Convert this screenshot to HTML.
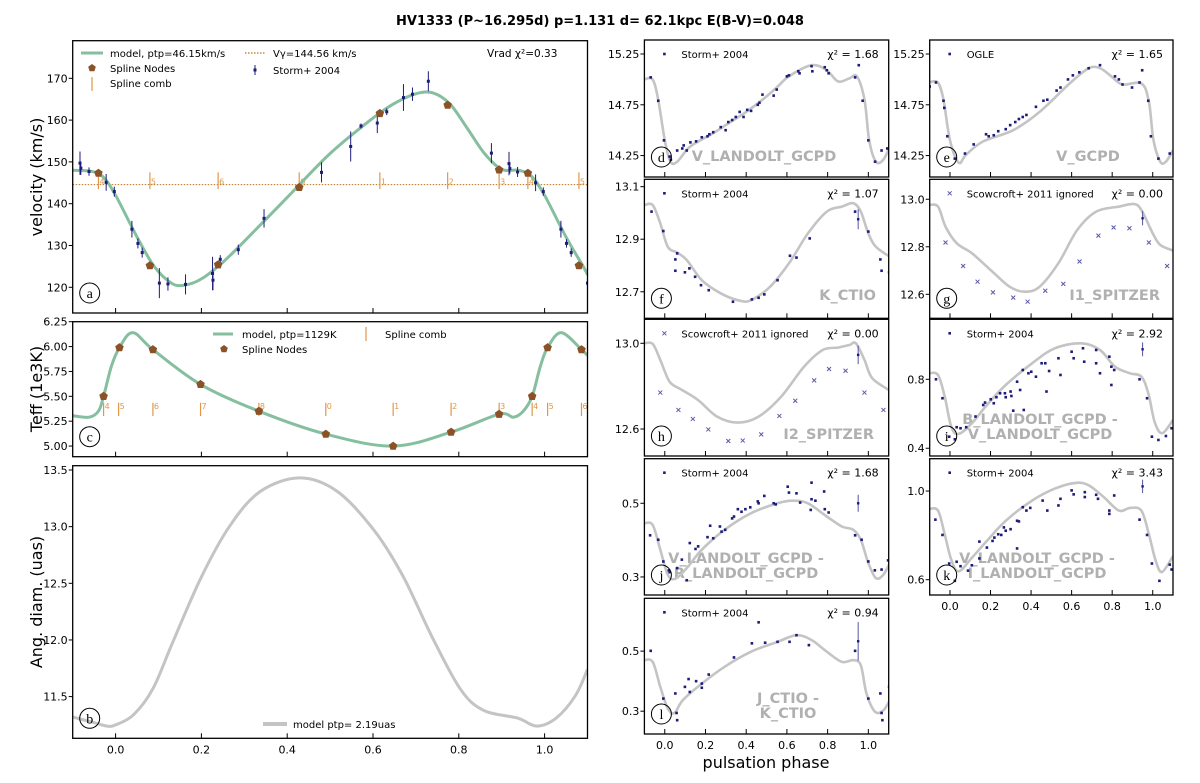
<!DOCTYPE html>
<html><head><meta charset="utf-8">
<style>
html,body{margin:0;padding:0;background:#fff;}
svg{display:block;font-family:"DejaVu Sans","Liberation Sans",sans-serif;}
</style></head>
<body>
<svg id="fig" width="1200" height="783" viewBox="0 0 1200 783" xmlns="http://www.w3.org/2000/svg">
<text x="600" y="25" text-anchor="middle" font-size="13" font-weight="bold">HV1333 (P~16.295d) p=1.131 d= 62.1kpc E(B-V)=0.048</text>
<text transform="translate(42,177) rotate(-90)" text-anchor="middle" font-size="16">velocity (km/s)</text>
<text transform="translate(42,389) rotate(-90)" text-anchor="middle" font-size="16">Teff (1e3K)</text>
<text transform="translate(42,602) rotate(-90)" text-anchor="middle" font-size="16">Ang. diam. (uas)</text>
<text x="766" y="768" text-anchor="middle" font-size="16">pulsation phase</text>
</svg>
<script>
// ---------- data ----------
const xTicks = [0, 0.2, 0.4, 0.6, 0.8, 1.0];
const xTickLabels = ["0.0", "0.2", "0.4", "0.6", "0.8", "1.0"];

const velModel = [[-0.1,148],[-0.06,147.8],[-0.03,146.5],[0,142],[0.05,132],[0.09,125],[0.13,121],[0.16,120.5],[0.2,122],[0.25,126],[0.3,131],[0.4,141.5],[0.5,152],[0.6,160.5],[0.65,164],[0.7,166.3],[0.74,166.5],[0.78,163.8],[0.82,158],[0.86,152],[0.9,148.2],[0.94,148],[0.97,146.5],[1.0,142],[1.05,132],[1.09,125],[1.1,123]];
const velNodes = [[-0.04,147.3],[0.08,125.2],[0.239,125.4],[0.428,143.9],[0.616,161.6],[0.774,163.6],[0.894,148.1],[0.961,147.3],[1.08,125.2]];
const velComb = [-0.04,0.08,0.239,0.428,0.616,0.774,0.894,0.961,1.08];
const velCombLabels = ["4","5","6","0","1","2","3","4","5"];
const velGamma = 144.56;
const velObs = [[-0.083,149.7,2.8],[-0.081,148.5,1.6],[-0.062,147.7,1],[-0.022,145.1,2],[-0.003,142.9,1.2],[0.038,133.9,2],[0.052,130.5,1.2],[0.062,128.3,1.2],[0.102,121,3.6],[0.122,120.8,1.6],[0.163,120.7,2.4],[0.226,123.3,4],[0.227,121.7,2.4],[0.244,126.7,1],[0.286,129,1.2],[0.346,136.5,2.2],[0.48,147.5,2.4],[0.548,153.7,3.6],[0.572,158.6,0.6],[0.61,159.3,2.4],[0.632,162,0.8],[0.671,165.4,3.2],[0.692,166.2,1.6],[0.729,169.3,2.4],[0.876,152.1,2.4],[0.917,149.6,2.8],[0.919,148.4,1.2],[0.937,147.6,1.2],[0.979,145,2],[0.997,142.9,1],[1.038,133.9,2],[1.051,130.5,1],[1.062,128.3,1],[1.1,121,1]];

const teffModel = [[-0.1,5.305],[-0.062,5.29],[-0.04,5.35],[-0.028,5.5],[-0.01,5.8],[0.009,5.99],[0.04,6.14],[0.087,5.97],[0.198,5.62],[0.334,5.35],[0.49,5.12],[0.647,5.0],[0.782,5.14],[0.894,5.32],[0.927,5.29],[0.95,5.35],[0.971,5.5],[0.99,5.8],[1.007,5.99],[1.039,6.14],[1.086,5.97],[1.1,5.91]];
const teffNodes = [[-0.028,5.5],[0.009,5.99],[0.087,5.97],[0.198,5.62],[0.334,5.35],[0.49,5.12],[0.647,5.0],[0.782,5.14],[0.894,5.32],[0.971,5.5],[1.007,5.99],[1.086,5.97]];
const teffComb = [-0.028,0.007,0.087,0.198,0.334,0.49,0.647,0.782,0.894,0.971,1.007,1.086];
const teffCombLabels = ["4","5","6","7","8","0","1","2","3","4","5","6"];

const diamModel = [[-0.1,11.32],[-0.05,11.27],[-0.02,11.24],[0.0,11.25],[0.042,11.34],[0.087,11.57],[0.131,11.96],[0.198,12.54],[0.265,13.0],[0.337,13.31],[0.43,13.43],[0.517,13.31],[0.602,12.97],[0.669,12.57],[0.736,12.04],[0.803,11.57],[0.857,11.38],[0.937,11.31],[0.982,11.24],[1.027,11.31],[1.072,11.51],[1.1,11.74]];

const dModel = [[-0.1,15.0],[-0.06,15.0],[-0.032,14.8],[0,14.4],[0.028,14.19],[0.061,14.19],[0.126,14.34],[0.238,14.47],[0.33,14.59],[0.4,14.68],[0.48,14.8],[0.55,14.92],[0.61,15.03],[0.721,15.14],[0.796,15.09],[0.851,14.98],[0.907,15.01],[0.944,15.03],[0.981,14.8],[1.004,14.4],[1.037,14.19],[1.074,14.21],[1.106,14.34]];
const dObs = [[-0.069,15.02],[-0.032,14.79],[-0.004,14.4],[0.024,14.24],[0.03,14.21],[0.061,14.3],[0.086,14.32],[0.093,14.35],[0.108,14.3],[0.126,14.38],[0.154,14.39],[0.182,14.43],[0.21,14.44],[0.219,14.46],[0.238,14.48],[0.275,14.53],[0.299,14.5],[0.312,14.58],[0.331,14.6],[0.349,14.63],[0.368,14.68],[0.387,14.63],[0.405,14.7],[0.424,14.69],[0.457,14.75],[0.465,14.77],[0.48,14.85],[0.535,14.84],[0.55,14.9],[0.6,15.03],[0.61,15.04],[0.656,15.08],[0.662,15.06],[0.721,15.13],[0.725,15.08],[0.786,15.12],[0.796,15.09],[0.805,15.06],[0.935,15.02],[0.953,15.14],[0.972,14.79],[1.0,14.4],[1.033,14.19],[1.065,14.3],[1.093,14.32]];

const eModel = [[-0.104,14.97],[-0.06,14.97],[-0.032,14.8],[0,14.4],[0.043,14.18],[0.08,14.26],[0.164,14.39],[0.312,14.5],[0.442,14.68],[0.59,14.96],[0.684,15.11],[0.74,15.11],[0.796,15.03],[0.851,14.95],[0.944,14.96],[0.981,14.78],[1.004,14.4],[1.037,14.19],[1.065,14.19],[1.1,14.3]];
const eObs = [[-0.1,14.93],[-0.069,14.97],[-0.032,14.79],[-0.028,14.72],[-0.013,14.44],[0.024,14.22],[0.074,14.27],[0.117,14.36],[0.178,14.46],[0.191,14.44],[0.216,14.45],[0.238,14.49],[0.275,14.51],[0.297,14.55],[0.322,14.58],[0.34,14.61],[0.359,14.63],[0.377,14.65],[0.424,14.73],[0.461,14.79],[0.48,14.8],[0.526,14.89],[0.545,14.92],[0.582,15.0],[0.606,15.04],[0.638,15.07],[0.684,15.11],[0.74,15.14],[0.814,15.03],[0.833,15.0],[0.851,14.95],[0.898,14.92],[0.935,14.97],[0.948,15.09],[0.978,14.79],[0.991,14.44],[1.028,14.22],[1.084,14.27]];

const fModel = [[-0.1,13.03],[-0.059,13.03],[-0.022,12.96],[0.015,12.871],[0.061,12.849],[0.108,12.821],[0.182,12.744],[0.275,12.694],[0.368,12.666],[0.424,12.668],[0.517,12.719],[0.61,12.808],[0.703,12.922],[0.796,13.005],[0.87,13.024],[0.926,13.037],[0.963,13.005],[1.0,12.922],[1.037,12.871],[1.106,12.833]];
const fObs = [[-0.065,13.005],[-0.007,12.931],[0.061,12.846],[0.052,12.823],[0.052,12.78],[0.099,12.774],[0.121,12.789],[0.149,12.757],[0.178,12.725],[0.216,12.706],[0.335,12.662],[0.428,12.671],[0.461,12.677],[0.489,12.69],[0.554,12.744],[0.615,12.837],[0.647,12.83],[0.712,12.903],[0.935,13.005],[1.0,12.929],[1.059,12.823],[1.065,12.78],[1.102,12.774]];
const fErr = [[0.95,12.976,0.038]];

const gModel = [[-0.104,12.976],[-0.059,12.969],[-0.022,12.885],[0.033,12.815],[0.108,12.773],[0.201,12.702],[0.294,12.632],[0.368,12.611],[0.442,12.632],[0.535,12.731],[0.628,12.871],[0.721,12.948],[0.833,12.969],[0.907,12.98],[0.944,12.955],[1.0,12.857],[1.037,12.808],[1.1,12.784]];
const gObs = [[-0.022,12.818],[0.065,12.719],[0.136,12.653],[0.212,12.608],[0.312,12.586],[0.383,12.569],[0.47,12.615],[0.559,12.644],[0.639,12.738],[0.732,12.847],[0.807,12.881],[0.885,12.878],[0.981,12.818],[1.071,12.719]];
const gErr = [[0.95,12.92,0.03]];

const hModel = [[-0.1,13.0],[-0.059,12.997],[-0.022,12.922],[0.024,12.821],[0.08,12.785],[0.164,12.735],[0.257,12.658],[0.359,12.63],[0.461,12.658],[0.572,12.751],[0.684,12.891],[0.777,12.969],[0.851,12.98],[0.907,12.992],[0.939,13.0],[0.981,12.922],[1.019,12.837],[1.106,12.779]];
const hObs = [[-0.022,12.77],[0.067,12.689],[0.138,12.647],[0.214,12.598],[0.312,12.544],[0.383,12.546],[0.474,12.575],[0.563,12.661],[0.641,12.732],[0.734,12.827],[0.807,12.88],[0.888,12.872],[0.981,12.77],[1.074,12.689]];
const hErr = [[0.95,12.946,0.043]];

const iModel = [[-0.104,0.835],[-0.059,0.825],[-0.026,0.7],[0.006,0.526],[0.043,0.483],[0.108,0.545],[0.182,0.651],[0.275,0.767],[0.405,0.893],[0.517,0.98],[0.647,1.009],[0.74,0.97],[0.814,0.873],[0.888,0.835],[0.944,0.815],[0.978,0.719],[1.009,0.555],[1.046,0.487],[1.1,0.564]];
const iObs = [[-0.069,0.8],[-0.037,0.69],[-0.004,0.467],[0.024,0.452],[0.033,0.522],[0.052,0.516],[0.08,0.522],[0.126,0.584],[0.164,0.651],[0.173,0.665],[0.201,0.684],[0.216,0.661],[0.229,0.696],[0.247,0.719],[0.271,0.719],[0.275,0.696],[0.299,0.729],[0.303,0.703],[0.312,0.618],[0.331,0.786],[0.346,0.738],[0.359,0.854],[0.364,0.622],[0.387,0.835],[0.401,0.844],[0.424,0.815],[0.452,0.893],[0.47,0.893],[0.476,0.729],[0.489,0.848],[0.545,0.825],[0.535,0.922],[0.6,0.96],[0.61,0.922],[0.656,0.98],[0.662,0.902],[0.721,0.97],[0.721,0.893],[0.74,0.835],[0.786,0.931],[0.796,0.767],[0.796,0.873],[0.81,0.854],[0.935,0.8],[0.972,0.69],[0.996,0.467],[1.028,0.448],[1.065,0.471],[1.093,0.516]];
const iErr = [[0.95,0.974,0.04]];

const jModel = [[-0.1,0.446],[-0.059,0.441],[-0.022,0.374],[0.015,0.306],[0.052,0.295],[0.108,0.324],[0.182,0.374],[0.294,0.428],[0.424,0.473],[0.554,0.5],[0.628,0.507],[0.703,0.5],[0.796,0.464],[0.87,0.437],[0.926,0.428],[0.963,0.401],[1.0,0.338],[1.037,0.297],[1.074,0.306],[1.106,0.338]];
const jObs = [[-0.072,0.413],[-0.032,0.401],[-0.007,0.342],[0.02,0.318],[0.024,0.313],[0.061,0.324],[0.084,0.347],[0.108,0.291],[0.123,0.392],[0.151,0.376],[0.164,0.383],[0.21,0.408],[0.223,0.439],[0.238,0.405],[0.271,0.437],[0.279,0.423],[0.297,0.428],[0.331,0.459],[0.34,0.464],[0.359,0.484],[0.377,0.477],[0.396,0.484],[0.42,0.489],[0.457,0.505],[0.461,0.5],[0.489,0.52],[0.535,0.5],[0.545,0.497],[0.604,0.545],[0.61,0.529],[0.647,0.527],[0.665,0.502],[0.717,0.482],[0.721,0.556],[0.721,0.511],[0.74,0.507],[0.783,0.532],[0.786,0.484],[0.805,0.475],[0.935,0.413],[0.967,0.401],[1.0,0.342],[1.032,0.318],[1.065,0.32],[1.097,0.345]];
const jErr = [[0.95,0.5,0.023]];

const kModel = [[-0.104,0.919],[-0.059,0.912],[-0.026,0.805],[0.006,0.691],[0.043,0.638],[0.108,0.699],[0.182,0.775],[0.275,0.866],[0.405,0.957],[0.517,1.011],[0.619,1.037],[0.684,1.026],[0.758,0.973],[0.833,0.912],[0.888,0.924],[0.944,0.912],[0.981,0.805],[1.015,0.684],[1.046,0.635],[1.1,0.706]];
const kObs = [[-0.072,0.871],[-0.037,0.802],[-0.004,0.673],[0.024,0.595],[0.033,0.681],[0.052,0.661],[0.089,0.641],[0.108,0.665],[0.145,0.772],[0.145,0.696],[0.182,0.745],[0.21,0.775],[0.219,0.79],[0.238,0.805],[0.253,0.802],[0.266,0.836],[0.275,0.821],[0.299,0.828],[0.331,0.741],[0.331,0.866],[0.34,0.863],[0.359,0.927],[0.377,0.912],[0.396,0.924],[0.457,0.957],[0.48,0.912],[0.535,0.935],[0.545,0.965],[0.6,1.003],[0.61,0.985],[0.665,0.995],[0.665,0.973],[0.721,0.983],[0.73,0.965],[0.786,0.912],[0.786,0.897],[0.81,0.98],[0.935,0.871],[0.972,0.802],[0.996,0.673],[1.033,0.595],[1.084,0.668],[1.093,0.646]];
const kErr = [[0.95,1.021,0.03]];

const lModel = [[-0.1,0.47],[-0.059,0.464],[-0.022,0.381],[0.015,0.309],[0.048,0.294],[0.089,0.337],[0.182,0.392],[0.294,0.448],[0.424,0.498],[0.554,0.531],[0.647,0.553],[0.721,0.537],[0.796,0.498],[0.87,0.464],[0.926,0.47],[0.963,0.453],[0.991,0.359],[1.033,0.298],[1.074,0.303],[1.106,0.337]];
const lObs = [[-0.069,0.501],[-0.007,0.342],[0.052,0.359],[0.058,0.294],[0.061,0.27],[0.099,0.381],[0.117,0.407],[0.123,0.364],[0.154,0.4],[0.182,0.392],[0.182,0.378],[0.216,0.422],[0.34,0.479],[0.428,0.526],[0.461,0.596],[0.493,0.528],[0.554,0.531],[0.613,0.531],[0.647,0.553],[0.708,0.52],[0.935,0.501],[1.0,0.342],[1.059,0.359],[1.065,0.294],[1.069,0.27],[1.102,0.381]];
const lErr = [[0.95,0.533,0.064]];

// ---------- drawing ----------
const NS = "http://www.w3.org/2000/svg";
const svg = document.getElementById("fig");
function mk(tag, attrs, parent) {
  const e = document.createElementNS(NS, tag);
  for (const k in attrs) e.setAttribute(k, attrs[k]);
  (parent || svg).appendChild(e);
  return e;
}
function makeAxes(x0, x1, y0, y1, vTop, vBot) {
  return {
    sx: p => x0 + (p + 0.1) / 1.2 * (x1 - x0),
    sy: v => y0 + (vTop - v) / (vTop - vBot) * (y1 - y0),
    x0, x1, y0, y1
  };
}
function smoothPath(pts, ax) {
  const P = pts.map(p => [ax.sx(p[0]), ax.sy(p[1])]);
  let d = "M" + P[0][0].toFixed(1) + "," + P[0][1].toFixed(1);
  for (let i = 0; i < P.length - 1; i++) {
    const p0 = P[Math.max(0, i - 1)], p1 = P[i], p2 = P[i + 1], p3 = P[Math.min(P.length - 1, i + 2)];
    const c1 = [p1[0] + (p2[0] - p0[0]) / 6, p1[1] + (p2[1] - p0[1]) / 6];
    const c2 = [p2[0] - (p3[0] - p1[0]) / 6, p2[1] - (p3[1] - p1[1]) / 6];
    d += "C" + c1.map(v => v.toFixed(1)).join(",") + " " + c2.map(v => v.toFixed(1)).join(",") + " " + p2[0].toFixed(1) + "," + p2[1].toFixed(1);
  }
  return d;
}
function frame(ax, name, yTicks, yLabels, showX, g) {
  const clipId = "clip-" + name;
  const cp = mk("clipPath", { id: clipId }, g);
  mk("rect", { x: ax.x0, y: ax.y0, width: ax.x1 - ax.x0, height: ax.y1 - ax.y0 }, cp);
  yTicks.forEach((v, i) => {
    const y = ax.sy(v);
    const t = mk("line", { x1: ax.x0 - 4, x2: ax.x0, y1: y, y2: y, stroke: "#000", "stroke-width": 1 }, g);
    
    
    const tx = mk("text", { x: ax.x0 - 5, y: y + 4, "text-anchor": "end", "font-size": 11 }, g);
    tx.textContent = yLabels[i];
    
    
  });
  xTicks.forEach((p, i) => {
    const x = ax.sx(p);
    const t = mk("line", { x1: x, x2: x, y1: ax.y1, y2: ax.y1 - 5, stroke: "#000", "stroke-width": 1 }, g);
    
    
    if (showX) {
      const tx = mk("text", { x: x, y: ax.y1 + 15, "text-anchor": "middle", "font-size": 11 }, g);
      tx.textContent = xTickLabels[i];
      
      
    }
  });
  return "url(#" + clipId + ")";
}
function border(ax, g) {
  const r = mk("rect", { x: ax.x0, y: ax.y0, width: ax.x1 - ax.x0, height: ax.y1 - ax.y0, fill: "none", stroke: "#000", "stroke-width": 1.3 }, g);
  
  
}
function letter(ax, ch, g) {
  const c = mk("circle", { cx: ax.x0 + 17, cy: ax.y1 - 20, r: 10, fill: "none", stroke: "#000", "stroke-width": 1 }, g);
  
  
  const t = mk("text", { x: ax.x0 + 17, y: ax.y1 - 15, "text-anchor": "middle", "font-size": 14, "font-family": "Liberation Serif, serif" }, g);
  t.textContent = ch;
  
  
}
function pentagon(cx, cy, r) {
  let pts = [];
  for (let k = 0; k < 5; k++) { const a = -Math.PI / 2 + k * 2 * Math.PI / 5; pts.push((cx + r * Math.cos(a)).toFixed(1) + "," + (cy + r * Math.sin(a)).toFixed(1)); }
  return pts.join(" ");
}
function txt(x, y, s, size, g, name, extra) {
  const t = mk("text", Object.assign({ x: x, y: y, "font-size": size }, extra || {}), g);
  t.textContent = s;
  
  
  return t;
}
const GREEN = "#86bfa0", BROWN = "#8b5228", ORANGE = "#e0974a", NAVY = "#1c1c7a", GREY = "#c4c4c4";

// ---- panel a ----
(function () {
  const g = mk("g", {});
  
  
  const ax = makeAxes(72.7, 587.5, 40.7, 313, 179.0, 113.85);
  const clip = frame(ax, "a", [120, 130, 140, 150, 160, 170], ["120", "130", "140", "150", "160", "170"], false, g);
  const inner = mk("g", { "clip-path": clip }, g);
  const gl = mk("line", { x1: ax.x0, x2: ax.x1, y1: ax.sy(velGamma), y2: ax.sy(velGamma), stroke: "#b8741f", "stroke-width": 1, "stroke-dasharray": "1.5,1.5" }, inner);
  
  
  velComb.forEach((p, i) => {
    const x = ax.sx(p);
    const l = mk("line", { x1: x, x2: x, y1: ax.sy(147.5), y2: ax.sy(143.5), stroke: ORANGE, "stroke-width": 1.2 }, inner);
    
    
    txt(x + 1, ax.sy(144.6), velCombLabels[i], 8, inner, 'spline-comb-label', { fill: ORANGE });
  });
  const path = mk("path", { d: smoothPath(velModel, ax), fill: "none", stroke: GREEN, "stroke-width": 3 }, inner);
  
  
  velObs.forEach(o => {
    const x = ax.sx(o[0]);
    const e = mk("line", { x1: x, x2: x, y1: ax.sy(o[1] + o[2]), y2: ax.sy(o[1] - o[2]), stroke: NAVY, "stroke-width": 1 }, inner);
    
    
    const c = mk("rect", { x: x - 1.5, y: ax.sy(o[1]) - 1.5, width: 3, height: 3, fill: NAVY }, inner);
    
    
  });
  velNodes.forEach(n => {
    const p = mk("polygon", { points: pentagon(ax.sx(n[0]), ax.sy(n[1]), 4.5), fill: BROWN }, inner);
    
    
  });
  border(ax, g);
  letter(ax, "a", g);
  const lg = mk("g", {}, g);
  
  
  mk("line", { x1: 81, x2: 103, y1: 53, y2: 53, stroke: GREEN, "stroke-width": 3 }, lg);
  txt(110, 57, "model, ptp=46.15km/s", 10, lg, 'legend-model');
  mk("polygon", { points: pentagon(92, 68, 4), fill: BROWN }, lg);
  txt(110, 72, "Spline Nodes", 10, lg, 'legend-spline-nodes');
  mk("line", { x1: 92, x2: 92, y1: 77, y2: 91, stroke: ORANGE, "stroke-width": 1.2 }, lg);
  txt(110, 87, "Spline comb", 10, lg, 'legend-spline-comb');
  mk("line", { x1: 245, x2: 265, y1: 53, y2: 53, stroke: "#b8741f", "stroke-width": 1.2, "stroke-dasharray": "1.5,1.5" }, lg);
  txt(273, 57, "V\u03b3=144.56 km/s", 10, lg, 'legend-gamma');
  mk("line", { x1: 255, x2: 255, y1: 65, y2: 75, stroke: NAVY, "stroke-width": 1 }, lg);
  mk("rect", { x: 253.5, y: 68.5, width: 3, height: 3, fill: NAVY }, lg);
  txt(273, 74, "Storm+ 2004", 10, lg, 'legend-storm');
  txt(487, 57, "Vrad \u03c7\u00b2=0.33", 10.5, g, 'vrad-chi2');
})();

// ---- panel c ----
(function () {
  const g = mk("g", {});
  
  
  const ax = makeAxes(72.7, 587.5, 321.7, 456.7, 6.25, 4.893);
  const clip = frame(ax, "c", [5.0, 5.25, 5.5, 5.75, 6.0, 6.25], ["5.00", "5.25", "5.50", "5.75", "6.00", "6.25"], false, g);
  const inner = mk("g", { "clip-path": clip }, g);
  teffComb.forEach((p, i) => {
    const x = ax.sx(p);
    const l = mk("line", { x1: x, x2: x, y1: 402.7, y2: 416, stroke: ORANGE, "stroke-width": 1.2 }, inner);
    
    
    txt(x + 1, 409, teffCombLabels[i], 8, inner, 'spline-comb-label', { fill: ORANGE });
  });
  const path = mk("path", { d: smoothPath(teffModel, ax), fill: "none", stroke: GREEN, "stroke-width": 3 }, inner);
  
  
  teffNodes.forEach(n => {
    const p = mk("polygon", { points: pentagon(ax.sx(n[0]), ax.sy(n[1]), 4.5), fill: BROWN }, inner);
    
    
  });
  border(ax, g);
  letter(ax, "c", g);
  const lg = mk("g", {}, g);
  
  
  mk("line", { x1: 213, x2: 233, y1: 334, y2: 334, stroke: GREEN, "stroke-width": 3 }, lg);
  txt(242, 338, "model, ptp=1129K", 10, lg, 'legend-model');
  mk("polygon", { points: pentagon(224, 349, 4), fill: BROWN }, lg);
  txt(242, 353, "Spline Nodes", 10, lg, 'legend-spline-nodes');
  mk("line", { x1: 366, x2: 366, y1: 327, y2: 341, stroke: ORANGE, "stroke-width": 1.2 }, lg);
  txt(385, 338, "Spline comb", 10, lg, 'legend-spline-comb');
})();

// ---- panel b ----
(function () {
  const g = mk("g", {});
  
  
  const ax = makeAxes(72.7, 587.5, 465.7, 738.3, 13.538, 11.132);
  const clip = frame(ax, "b", [11.5, 12.0, 12.5, 13.0, 13.5], ["11.5", "12.0", "12.5", "13.0", "13.5"], true, g);
  const inner = mk("g", { "clip-path": clip }, g);
  const path = mk("path", { d: smoothPath(diamModel, ax), fill: "none", stroke: GREY, "stroke-width": 3 }, inner);
  
  
  border(ax, g);
  letter(ax, "b", g);
  mk("line", { x1: 263, x2: 287, y1: 724, y2: 724, stroke: GREY, "stroke-width": 4 }, g);
  txt(293, 728, "model ptp= 2.19uas", 10, g, 'legend-angdiam-model');
})();

// ---- right panels ----
const LX = [644.4, 888.7], RX = [929.7, 1173];
const rightPanels = [
  { id: "d", xs: LX, y: [40, 177], top: 15.388, bot: 14.039, yt: [14.25, 14.75, 15.25], yl: ["14.25", "14.75", "15.25"], model: dModel, obs: dObs, err: [], mk: "dot", leg: "Storm+ 2004", chi: "1.68", label: ["V_LANDOLT_GCPD"], lx: 764, ly: [161], anchor: "middle", xl: false },
  { id: "e", xs: RX, y: [40, 177], top: 15.388, bot: 14.039, yt: [14.25, 14.75, 15.25], yl: ["14.25", "14.75", "15.25"], model: eModel, obs: eObs, err: [], mk: "dot", leg: "OGLE", chi: "1.65", label: ["V_GCPD"], lx: 1088, ly: [161], anchor: "middle", xl: false },
  { id: "f", xs: LX, y: [179.3, 318.3], top: 13.128, bot: 12.599, yt: [12.7, 12.9, 13.1], yl: ["12.7", "12.9", "13.1"], model: fModel, obs: fObs, err: fErr, mk: "dot", leg: "Storm+ 2004", chi: "1.07", label: ["K_CTIO"], lx: 876, ly: [300], anchor: "end", xl: false },
  { id: "g", xs: RX, y: [179.3, 318.3], top: 13.084, bot: 12.499, yt: [12.6, 12.8, 13.0], yl: ["12.6", "12.8", "13.0"], model: gModel, obs: gObs, err: gErr, mk: "x", leg: "Scowcroft+ 2011 ignored", chi: "0.00", label: ["I1_SPITZER"], lx: 1160, ly: [300], anchor: "end", xl: false },
  { id: "h", xs: LX, y: [319.3, 456], top: 13.112, bot: 12.474, yt: [12.6, 13.0], yl: ["12.6", "13.0"], model: hModel, obs: hObs, err: hErr, mk: "x", leg: "Scowcroft+ 2011 ignored", chi: "0.00", label: ["I2_SPITZER"], lx: 874, ly: [439], anchor: "end", xl: false },
  { id: "i", xs: RX, y: [319.3, 456], top: 1.148, bot: 0.355, yt: [0.4, 0.8], yl: ["0.4", "0.8"], model: iModel, obs: iObs, err: iErr, mk: "dot", leg: "Storm+ 2004", chi: "2.92", label: ["B_LANDOLT_GCPD -", "V_LANDOLT_GCPD"], lx: 1040, ly: [424, 439], anchor: "middle", xl: false },
  { id: "j", xs: LX, y: [458.7, 595], top: 0.621, bot: 0.251, yt: [0.3, 0.5], yl: ["0.3", "0.5"], model: jModel, obs: jObs, err: jErr, mk: "dot", leg: "Storm+ 2004", chi: "1.68", label: ["V_LANDOLT_GCPD -", "R_LANDOLT_GCPD"], lx: 746, ly: [563, 578], anchor: "middle", xl: false },
  { id: "k", xs: RX, y: [458.7, 595], top: 1.146, bot: 0.531, yt: [0.6, 1.0], yl: ["0.6", "1.0"], model: kModel, obs: kObs, err: kErr, mk: "dot", leg: "Storm+ 2004", chi: "3.43", label: ["V_LANDOLT_GCPD -", "I_LANDOLT_GCPD"], lx: 1037, ly: [563, 578], anchor: "middle", xl: true },
  { id: "l", xs: LX, y: [598.3, 734], top: 0.676, bot: 0.224, yt: [0.3, 0.5], yl: ["0.3", "0.5"], model: lModel, obs: lObs, err: lErr, mk: "dot", leg: "Storm+ 2004", chi: "0.94", label: ["J_CTIO -", "K_CTIO"], lx: 788, ly: [703, 718], anchor: "middle", xl: true }
];
rightPanels.forEach(P => {
  const g = mk("g", {});
  
  
  const ax = makeAxes(P.xs[0], P.xs[1], P.y[0], P.y[1], P.top, P.bot);
  const clip = frame(ax, P.id, P.yt, P.yl, P.xl, g);
  const inner = mk("g", { "clip-path": clip }, g);
  P.label.forEach((s, i) => txt(P.lx, P.ly[i], s, 14.5, inner, 'band-label', { "text-anchor": P.anchor, fill: "#b0b0b0", "font-weight": "bold" }));
  const path = mk("path", { d: smoothPath(P.model, ax), fill: "none", stroke: GREY, "stroke-width": 2.6 }, inner);
  
  
  P.err.forEach(e => {
    const x = ax.sx(e[0]);
    const l = mk("line", { x1: x, x2: x, y1: ax.sy(e[1] + e[2]), y2: ax.sy(e[1] - e[2]), stroke: "#5555a0", "stroke-width": 1 }, inner);
    
    
    const c = mk("rect", { x: x - 1.2, y: ax.sy(e[1]) - 1.2, width: 2.4, height: 2.4, fill: NAVY }, inner);
    
    
  });
  P.obs.forEach(o => {
    const x = ax.sx(o[0]), y = ax.sy(o[1]);
    if (P.mk === "x") {
      const m = mk("path", { d: `M${x - 2},${y - 2}L${x + 2},${y + 2}M${x - 2},${y + 2}L${x + 2},${y - 2}`, stroke: "#5a5aa8", "stroke-width": 1 }, inner);
      
      
    } else {
      const m = mk("rect", { x: x - 1.3, y: y - 1.3, width: 2.6, height: 2.6, fill: NAVY }, inner);
      
      
    }
  });
  border(ax, g);
  letter(ax, P.id, g);
  const lg = mk("g", {}, g);
  
  
  const mx = ax.x0 + 20, my = ax.y0 + 14;
  if (P.mk === "x") mk("path", { d: `M${mx - 2},${my - 2}L${mx + 2},${my + 2}M${mx - 2},${my + 2}L${mx + 2},${my - 2}`, stroke: "#5a5aa8", "stroke-width": 1 }, lg);
  else mk("rect", { x: mx - 1.3, y: my - 1.3, width: 2.6, height: 2.6, fill: NAVY }, lg);
  txt(ax.x0 + 37, ax.y0 + 18, P.leg, 10, lg, 'legend-data');
  txt(ax.x1 - 10, ax.y0 + 18, "\u03c7\u00b2 = " + P.chi, 11, lg, 'chi2-value', { "text-anchor": "end" });
});
</script>
</body></html>
